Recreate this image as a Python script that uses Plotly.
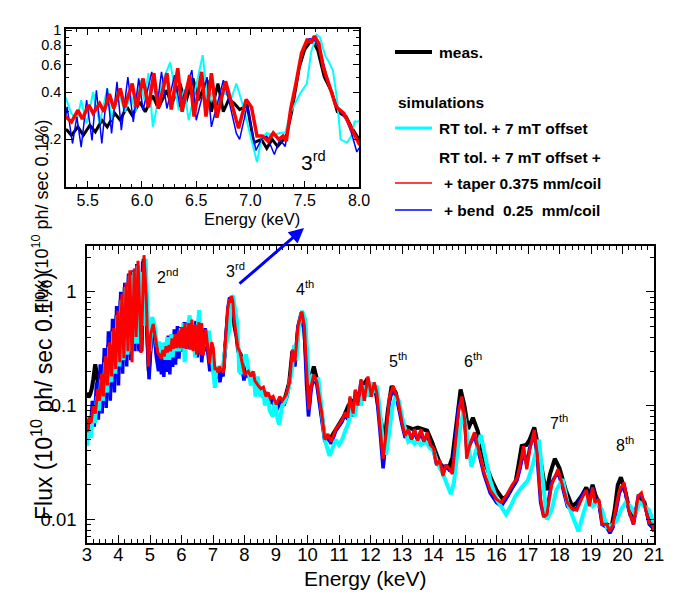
import math
import plotly.graph_objects as go

# ---- data: (energy keV, flux 1e10 ph/s/0.1%) ----
meas = [(3.00, 0.13), (3.05, 0.118), (3.10, 0.125), (3.15, 0.14), (3.20, 0.17), (3.26, 0.23), (3.30, 0.20),
        (3.35, 0.15), (3.42, 0.20), (3.48, 0.14), (3.55, 0.26), (3.61, 0.16), (3.68, 0.34), (3.74, 0.19),
        (3.81, 0.46), (3.87, 0.22), (3.94, 0.62), (4.00, 0.25), (4.07, 0.85), (4.13, 0.27), (4.20, 1.1),
        (4.26, 0.30), (4.33, 1.4), (4.39, 0.28), (4.46, 1.5), (4.52, 0.35), (4.59, 1.75), (4.66, 0.32),
        (4.73, 0.30), (4.80, 1.95), (4.88, 0.7), (4.96, 0.20), (5.04, 0.40), (5.12, 0.48), (5.20, 0.30),
        (5.27, 0.23), (5.31, 0.229), (5.35, 0.212), (5.41, 0.24), (5.46, 0.212), (5.52, 0.246), (5.57, 0.223),
        (5.63, 0.265), (5.68, 0.24), (5.75, 0.293), (5.80, 0.265), (5.86, 0.323), (5.91, 0.285), (5.98, 0.347),
        (6.03, 0.30), (6.10, 0.38), (6.15, 0.315), (6.23, 0.412), (6.27, 0.331), (6.35, 0.455), (6.40, 0.339),
        (6.47, 0.49), (6.52, 0.356), (6.60, 0.478), (6.64, 0.30), (6.70, 0.455), (6.75, 0.30), (6.80, 0.36),
        (6.85, 0.34), (6.90, 0.31), (6.97, 0.33), (7.03, 0.19), (7.10, 0.20), (7.15, 0.175), (7.20, 0.20),
        (7.25, 0.18), (7.30, 0.20), (7.33, 0.21), (7.38, 0.30), (7.45, 0.58), (7.50, 0.75), (7.55, 0.84),
        (7.58, 0.84), (7.62, 0.74), (7.68, 0.50), (7.75, 0.40), (7.80, 0.30), (7.88, 0.28), (7.93, 0.24),
        (8.00, 0.20), (8.10, 0.19), (8.20, 0.17), (8.30, 0.18), (8.40, 0.14), (8.50, 0.14), (8.60, 0.12),
        (8.70, 0.125), (8.80, 0.105), (8.90, 0.11), (9.00, 0.095), (9.10, 0.11), (9.20, 0.105), (9.30, 0.12),
        (9.42, 0.16), (9.52, 0.30), (9.60, 0.23), (9.70, 0.48), (9.82, 0.64), (9.90, 0.45), (9.98, 0.18),
        (10.05, 0.10), (10.12, 0.18), (10.20, 0.22), (10.30, 0.17), (10.45, 0.09), (10.55, 0.052), (10.70, 0.05),
        (10.85, 0.058), (11.00, 0.068), (11.15, 0.08), (11.30, 0.10), (11.45, 0.11), (11.60, 0.12), (11.75, 0.15),
        (11.90, 0.17), (12.00, 0.14), (12.15, 0.14), (12.30, 0.08), (12.45, 0.05), (12.55, 0.09), (12.67, 0.148),
        (12.80, 0.13), (12.95, 0.09), (13.05, 0.066), (13.20, 0.064), (13.35, 0.062), (13.50, 0.064),
        (13.65, 0.062), (13.80, 0.06), (13.95, 0.048), (14.05, 0.04), (14.20, 0.031), (14.35, 0.028),
        (14.50, 0.029), (14.60, 0.035), (14.72, 0.07), (14.86, 0.138), (14.98, 0.10), (15.10, 0.062),
        (15.25, 0.078), (15.40, 0.06), (15.55, 0.04), (15.68, 0.029), (15.85, 0.022), (16.00, 0.018),
        (16.20, 0.015), (16.35, 0.016), (16.50, 0.019), (16.60, 0.021), (16.70, 0.03), (16.80, 0.044),
        (16.95, 0.045), (17.05, 0.05), (17.20, 0.064), (17.35, 0.04), (17.50, 0.022), (17.60, 0.018),
        (17.70, 0.025), (17.85, 0.034), (18.00, 0.028), (18.20, 0.018), (18.40, 0.013), (18.55, 0.014),
        (18.70, 0.016), (18.85, 0.019), (18.95, 0.016), (19.05, 0.02), (19.15, 0.016), (19.25, 0.014),
        (19.35, 0.01), (19.50, 0.009), (19.65, 0.0085), (19.75, 0.012), (19.85, 0.02), (19.95, 0.0233),
        (20.10, 0.017), (20.25, 0.011), (20.40, 0.011), (20.55, 0.016), (20.70, 0.014), (20.85, 0.0095),
        (21.00, 0.008)]

rt_offset = [(3.00, 0.044), (3.06, 0.06), (3.12, 0.052), (3.19, 0.085), (3.25, 0.07), (3.32, 0.12), (3.38, 0.09),
             (3.45, 0.17), (3.51, 0.11), (3.58, 0.24), (3.64, 0.13), (3.71, 0.33), (3.77, 0.16), (3.84, 0.45),
             (3.90, 0.19), (3.97, 0.62), (4.03, 0.22), (4.10, 0.85), (4.16, 0.25), (4.23, 1.1), (4.29, 0.28),
             (4.36, 1.4), (4.42, 0.30), (4.49, 1.5), (4.55, 0.35), (4.61, 1.7), (4.68, 0.35), (4.74, 1.5),
             (4.80, 0.5), (4.86, 1.95), (4.93, 0.6), (4.99, 0.30), (5.07, 0.60), (5.14, 0.52), (5.22, 0.33),
             (5.30, 0.364), (5.35, 0.293), (5.40, 0.265), (5.44, 0.356), (5.49, 0.252), (5.55, 0.40), (5.61, 0.252),
             (5.68, 0.423), (5.72, 0.265), (5.78, 0.42), (5.84, 0.30), (5.90, 0.38), (5.94, 0.30), (5.98, 0.48),
             (6.02, 0.36), (6.06, 0.53), (6.10, 0.24), (6.18, 0.45), (6.26, 0.62), (6.34, 0.307), (6.39, 0.42),
             (6.43, 0.265), (6.49, 0.42), (6.56, 0.69), (6.61, 0.33), (6.65, 0.40), (6.70, 0.33), (6.76, 0.40),
             (6.82, 0.36), (6.87, 0.455), (6.93, 0.33), (6.98, 0.24), (7.03, 0.18), (7.06, 0.143), (7.10, 0.20),
             (7.15, 0.22), (7.21, 0.21), (7.27, 0.22), (7.32, 0.22), (7.38, 0.307), (7.46, 0.395), (7.52, 0.455),
             (7.56, 0.73), (7.61, 0.93), (7.64, 0.90), (7.69, 0.68), (7.72, 0.63), (7.76, 0.55), (7.80, 0.35),
             (7.83, 0.20), (7.89, 0.19), (7.93, 0.21), (7.96, 0.26), (8.00, 0.26), (8.05, 0.28), (8.12, 0.22),
             (8.20, 0.15), (8.28, 0.20), (8.35, 0.12), (8.42, 0.18), (8.50, 0.12), (8.58, 0.14), (8.65, 0.10),
             (8.72, 0.13), (8.80, 0.09), (8.90, 0.08), (8.97, 0.11), (9.05, 0.075), (9.10, 0.068), (9.20, 0.10),
             (9.30, 0.11), (9.40, 0.14), (9.50, 0.20), (9.58, 0.34), (9.65, 0.25), (9.73, 0.50), (9.83, 0.68),
             (9.93, 0.57), (10.05, 0.15), (10.15, 0.18), (10.25, 0.17), (10.35, 0.17), (10.45, 0.10), (10.55, 0.05),
             (10.70, 0.036), (10.80, 0.042), (10.90, 0.05), (11.00, 0.045), (11.10, 0.05), (11.20, 0.06),
             (11.30, 0.07), (11.40, 0.10), (11.50, 0.08), (11.60, 0.12), (11.70, 0.10), (11.80, 0.15), (11.90, 0.12),
             (12.00, 0.16), (12.10, 0.13), (12.20, 0.15), (12.30, 0.09), (12.40, 0.045), (12.50, 0.037),
             (12.60, 0.06), (12.70, 0.10), (12.80, 0.12), (12.90, 0.11), (13.00, 0.08), (13.10, 0.06),
             (13.20, 0.048), (13.30, 0.05), (13.40, 0.046), (13.50, 0.05), (13.60, 0.045), (13.75, 0.048),
             (13.90, 0.042), (14.00, 0.04), (14.15, 0.03), (14.30, 0.025), (14.45, 0.02), (14.55, 0.0166),
             (14.65, 0.021), (14.75, 0.04), (14.85, 0.065), (14.95, 0.087), (15.05, 0.06), (15.20, 0.029),
             (15.35, 0.04), (15.50, 0.055), (15.65, 0.035), (15.80, 0.022), (16.00, 0.015), (16.15, 0.013),
             (16.30, 0.011), (16.45, 0.013), (16.60, 0.016), (16.80, 0.019), (17.00, 0.022), (17.15, 0.03),
             (17.35, 0.05), (17.45, 0.025), (17.60, 0.0099), (17.75, 0.012), (17.90, 0.018), (18.10, 0.0225),
             (18.25, 0.014), (18.45, 0.01), (18.60, 0.0078), (18.75, 0.011), (18.90, 0.015), (19.05, 0.013),
             (19.20, 0.014), (19.35, 0.012), (19.50, 0.0085), (19.65, 0.0088), (19.80, 0.0095), (19.95, 0.012),
             (20.10, 0.014), (20.25, 0.013), (20.40, 0.011), (20.55, 0.014), (20.70, 0.013), (20.85, 0.012),
             (21.00, 0.009)]

taper = [(3.00, 0.058), (3.07, 0.08), (3.13, 0.07), (3.20, 0.10), (3.27, 0.085), (3.34, 0.14), (3.40, 0.11),
         (3.46, 0.19), (3.52, 0.12), (3.59, 0.27), (3.65, 0.15), (3.72, 0.36), (3.78, 0.18), (3.85, 0.48),
         (3.91, 0.21), (3.98, 0.68), (4.04, 0.24), (4.11, 0.95), (4.17, 0.26), (4.24, 1.2), (4.30, 0.30),
         (4.36, 1.55), (4.43, 0.24), (4.50, 1.6), (4.56, 0.40), (4.62, 1.87), (4.72, 0.29), (4.81, 2.1),
         (4.88, 0.9), (4.95, 0.22), (5.02, 0.42), (5.10, 0.52), (5.18, 0.38), (5.25, 0.29), (5.30, 0.278),
         (5.35, 0.258), (5.41, 0.307), (5.45, 0.27), (5.51, 0.331), (5.55, 0.293), (5.61, 0.339), (5.65, 0.30),
         (5.70, 0.389), (5.74, 0.315), (5.80, 0.423), (5.84, 0.32), (5.91, 0.455), (5.95, 0.32), (6.01, 0.49),
         (6.06, 0.32), (6.11, 0.53), (6.15, 0.315), (6.23, 0.53), (6.27, 0.31), (6.33, 0.57), (6.37, 0.30),
         (6.44, 0.515), (6.48, 0.28), (6.55, 0.54), (6.59, 0.28), (6.64, 0.53), (6.69, 0.275), (6.77, 0.47),
         (6.83, 0.33), (6.89, 0.235), (6.96, 0.36), (7.01, 0.32), (7.06, 0.21), (7.11, 0.21), (7.16, 0.195),
         (7.21, 0.22), (7.26, 0.20), (7.30, 0.21), (7.33, 0.195), (7.37, 0.31), (7.42, 0.46), (7.47, 0.71),
         (7.52, 0.86), (7.56, 0.84), (7.59, 0.915), (7.63, 0.82), (7.67, 0.58), (7.73, 0.43), (7.79, 0.323),
         (7.86, 0.293), (7.92, 0.24), (8.00, 0.188), (8.12, 0.20), (8.20, 0.18), (8.27, 0.20), (8.33, 0.165),
         (8.43, 0.15), (8.52, 0.14), (8.60, 0.145), (8.68, 0.12), (8.75, 0.13), (8.82, 0.115), (8.91, 0.12),
         (9.01, 0.102), (9.12, 0.12), (9.20, 0.11), (9.33, 0.125), (9.43, 0.16), (9.52, 0.31), (9.60, 0.24),
         (9.70, 0.50), (9.82, 0.67), (9.90, 0.50), (9.97, 0.20), (10.04, 0.092), (10.12, 0.15), (10.20, 0.187),
         (10.30, 0.16), (10.45, 0.087), (10.55, 0.05), (10.65, 0.056), (10.75, 0.048), (10.90, 0.062),
         (11.00, 0.068), (11.10, 0.075), (11.20, 0.087), (11.28, 0.078), (11.35, 0.12), (11.45, 0.085),
         (11.52, 0.138), (11.60, 0.10), (11.70, 0.17), (11.80, 0.11), (11.92, 0.18), (12.03, 0.12), (12.12, 0.16),
         (12.20, 0.13), (12.30, 0.066), (12.40, 0.034), (12.50, 0.058), (12.60, 0.12), (12.72, 0.148),
         (12.87, 0.113), (13.00, 0.071), (13.10, 0.054), (13.20, 0.062), (13.30, 0.05), (13.40, 0.062),
         (13.50, 0.049), (13.60, 0.062), (13.70, 0.048), (13.80, 0.058), (13.90, 0.045), (14.00, 0.042),
         (14.10, 0.03), (14.20, 0.033), (14.30, 0.024), (14.40, 0.03), (14.50, 0.028), (14.60, 0.025),
         (14.70, 0.045), (14.80, 0.09), (14.90, 0.12), (15.00, 0.07), (15.05, 0.034), (15.15, 0.045),
         (15.30, 0.058), (15.45, 0.04), (15.60, 0.026), (15.80, 0.018), (16.00, 0.015), (16.15, 0.014),
         (16.30, 0.016), (16.50, 0.02), (16.65, 0.023), (16.75, 0.03), (16.86, 0.044), (16.96, 0.0275),
         (17.05, 0.04), (17.20, 0.061), (17.30, 0.035), (17.40, 0.015), (17.50, 0.0104), (17.60, 0.011),
         (17.75, 0.02), (17.95, 0.0275), (18.10, 0.02), (18.25, 0.014), (18.40, 0.0123), (18.55, 0.012),
         (18.70, 0.015), (18.85, 0.018), (18.95, 0.013), (19.05, 0.019), (19.12, 0.014), (19.25, 0.015),
         (19.35, 0.009), (19.50, 0.009), (19.60, 0.0078), (19.70, 0.009), (19.80, 0.013), (19.90, 0.018),
         (20.05, 0.021), (20.20, 0.012), (20.35, 0.009), (20.50, 0.016), (20.60, 0.017), (20.75, 0.012),
         (20.85, 0.0093), (20.95, 0.009), (21.00, 0.0078)]

bend = [(3.00, 0.065), (3.05, 0.075), (3.10, 0.058), (3.17, 0.11), (3.23, 0.065), (3.30, 0.16), (3.36, 0.075),
        (3.42, 0.23), (3.48, 0.085), (3.55, 0.32), (3.61, 0.095), (3.68, 0.45), (3.74, 0.11), (3.81, 0.58),
        (3.87, 0.13), (3.94, 0.75), (4.00, 0.15), (4.07, 1.0), (4.13, 0.19), (4.20, 1.2), (4.26, 0.22),
        (4.32, 1.45), (4.39, 0.25), (4.46, 1.55), (4.52, 0.30), (4.58, 1.75), (4.65, 0.30), (4.71, 0.80),
        (4.77, 1.85), (4.84, 1.2), (4.91, 0.45), (4.97, 0.17), (5.05, 0.42), (5.12, 0.50), (5.20, 0.27),
        (5.27, 0.20), (5.31, 0.323), (5.36, 0.188), (5.40, 0.278), (5.44, 0.178), (5.49, 0.356), (5.54, 0.197),
        (5.58, 0.412), (5.63, 0.188), (5.68, 0.423), (5.72, 0.218), (5.77, 0.467), (5.81, 0.229), (5.87, 0.50),
        (5.92, 0.258), (5.97, 0.49), (6.01, 0.307), (6.09, 0.54), (6.14, 0.331), (6.18, 0.54), (6.23, 0.315),
        (6.30, 0.515), (6.35, 0.323), (6.46, 0.554), (6.50, 0.265), (6.60, 0.50), (6.64, 0.24), (6.75, 0.478),
        (6.80, 0.356), (6.87, 0.218), (6.90, 0.20), (6.97, 0.33), (7.05, 0.17), (7.10, 0.20), (7.15, 0.21),
        (7.22, 0.16), (7.27, 0.20), (7.32, 0.18), (7.37, 0.30), (7.42, 0.45), (7.47, 0.70), (7.52, 0.87),
        (7.55, 0.88), (7.60, 0.85), (7.64, 0.75), (7.70, 0.52), (7.76, 0.38), (7.82, 0.30), (7.88, 0.27),
        (7.93, 0.22), (7.98, 0.166), (8.00, 0.175), (8.10, 0.19), (8.20, 0.17), (8.28, 0.19), (8.35, 0.15),
        (8.45, 0.14), (8.55, 0.13), (8.65, 0.13), (8.75, 0.11), (8.85, 0.12), (8.95, 0.10), (9.05, 0.095),
        (9.15, 0.11), (9.25, 0.10), (9.35, 0.12), (9.45, 0.17), (9.53, 0.30), (9.60, 0.22), (9.70, 0.50),
        (9.80, 0.66), (9.90, 0.45), (9.97, 0.15), (10.03, 0.08), (10.12, 0.14), (10.20, 0.18), (10.30, 0.15),
        (10.45, 0.08), (10.55, 0.048), (10.65, 0.052), (10.75, 0.046), (10.90, 0.06), (11.00, 0.066),
        (11.10, 0.072), (11.20, 0.085), (11.28, 0.075), (11.35, 0.115), (11.45, 0.08), (11.52, 0.135),
        (11.60, 0.10), (11.70, 0.165), (11.80, 0.11), (11.90, 0.175), (12.00, 0.12), (12.10, 0.155),
        (12.20, 0.12), (12.30, 0.06), (12.40, 0.028), (12.50, 0.05), (12.60, 0.11), (12.72, 0.142),
        (12.85, 0.11), (13.00, 0.068), (13.10, 0.052), (13.20, 0.06), (13.30, 0.05), (13.40, 0.06),
        (13.50, 0.048), (13.60, 0.06), (13.70, 0.047), (13.80, 0.056), (13.90, 0.044), (14.00, 0.04),
        (14.10, 0.03), (14.20, 0.032), (14.30, 0.025), (14.40, 0.03), (14.50, 0.027), (14.60, 0.026),
        (14.70, 0.05), (14.80, 0.10), (14.90, 0.115), (15.00, 0.065), (15.07, 0.036), (15.15, 0.045),
        (15.30, 0.055), (15.45, 0.038), (15.60, 0.025), (15.80, 0.017), (16.00, 0.014), (16.15, 0.013),
        (16.30, 0.015), (16.50, 0.019), (16.65, 0.022), (16.75, 0.028), (16.86, 0.04), (16.96, 0.03),
        (17.05, 0.042), (17.20, 0.058), (17.30, 0.033), (17.40, 0.014), (17.50, 0.0105), (17.60, 0.012),
        (17.75, 0.021), (17.95, 0.026), (18.10, 0.019), (18.25, 0.013), (18.40, 0.012), (18.55, 0.0125),
        (18.70, 0.016), (18.85, 0.018), (18.95, 0.014), (19.05, 0.019), (19.12, 0.015), (19.25, 0.014),
        (19.35, 0.009), (19.50, 0.0085), (19.60, 0.0075), (19.70, 0.0085), (19.80, 0.012), (19.90, 0.017),
        (20.05, 0.02), (20.20, 0.012), (20.35, 0.009), (20.50, 0.016), (20.60, 0.016), (20.75, 0.012),
        (20.85, 0.009), (20.95, 0.0085), (21.00, 0.0078)]

harmonics = ["2<sup>nd</sup>", "3<sup>rd</sup>", "4<sup>th</sup>", "5<sup>th</sup>",
             "6<sup>th</sup>", "7<sup>th</sup>", "8<sup>th</sup>"]
harm_e = [5.54, 7.70, 9.93, 12.86, 15.24, 17.98, 20.07]
harm_f = [1.38, 1.56, 1.08, 0.253, 0.253, 0.072, 0.0455]

FONT = "Arial, Liberation Sans, Helvetica, sans-serif"
YTITLE = "Flux (10<sup>10</sup> ph/ sec 0.1%)"

# page body keeps an 8 px margin top/left; figure reaches the window's right/bottom edge
W, H = 666, 596


def px(x):
    return (x - 8) / W


def py(y):
    return (H + 8 - y) / H


fig = go.Figure()

# main plot: thick lines
series = [(meas, "black", 4), (bend, "#0000ff", 3.5), (rt_offset, "#00ffff", 4), (taper, "#ff0000", 3)]
for data, col, w in series:
    e, f = zip(*data)
    fig.add_trace(go.Scatter(x=e, y=f, mode="lines", line=dict(color=col, width=w),
                             xaxis="x", yaxis="y", showlegend=False))

# inset: same data, zoomed on the 3rd harmonic
inset = [(meas, "black", 3), (rt_offset, "#00ffff", 2), (bend, "#0000ff", 1.5), (taper, "#ff0000", 3.5)]
for data, col, w in inset:
    e, f = zip(*data)
    fig.add_trace(go.Scatter(x=e, y=f, mode="lines", line=dict(color=col, width=w),
                             xaxis="x2", yaxis="y2", showlegend=False))

axis_common = dict(showline=True, linecolor="black", linewidth=1.5, mirror="allticks", automargin=False,
                   ticks="inside", tickcolor="black", tickwidth=1.2, showgrid=False, zeroline=False)

main_minor = [0.007, 0.008, 0.009] + [k / 100 for k in range(2, 10)] + [k / 10 for k in range(2, 10)] + [2]

fig.update_layout(
    width=W, height=H,
    margin=dict(l=0, r=0, t=0, b=0),
    paper_bgcolor="white", plot_bgcolor="white",
    font=dict(family=FONT, color="black"),
    xaxis=dict(axis_common, domain=[px(87), px(654)], range=[3, 21], anchor="y",
               tickvals=list(range(3, 22)), ticklen=8, tickfont=dict(size=18.5), ticklabelstandoff=-6,
               minor=dict(dtick=0.2, ticks="inside", ticklen=4, tickcolor="black", showgrid=False)),
    yaxis=dict(axis_common, type="log", domain=[py(543), py(246)], range=[-2.21, 0.403], anchor="x",
               tickvals=[0.01, 0.1, 1], ticktext=["0.01", "0.1", "1"], ticklen=8, tickfont=dict(size=18.5),
               ticklabelstandoff=5,
               minor=dict(tickvals=main_minor, ticks="inside", ticklen=4, tickcolor="black", showgrid=False)),
    xaxis2=dict(axis_common, domain=[px(66), px(359)], range=[5.3, 8.0], anchor="y2",
                tickvals=[5.5, 6.0, 6.5, 7.0, 7.5, 8.0], ticktext=["5.5", "6.0", "6.5", "7.0", "7.5", "8.0"],
                ticklen=6, tickfont=dict(size=16), ticklabelstandoff=-2,
                minor=dict(dtick=0.1, ticks="inside", ticklen=3, tickcolor="black", showgrid=False)),
    yaxis2=dict(axis_common, type="log", domain=[py(187), py(29)], range=[-1.004, 0.0065], anchor="x2",
                tickvals=[0.2, 0.4, 0.6, 0.8, 1], ticktext=["0.2", "0.4", "0.6", "0.8", "1"],
                ticklen=6, tickfont=dict(size=14.5),
                minor=dict(tickvals=[0.1, 0.3, 0.5, 0.7, 0.9], ticks="inside", ticklen=3,
                           tickcolor="black", showgrid=False)),
)

ann = []
# axis titles
ann.append(dict(text="Energy (keV)", xref="paper", yref="paper", x=px(365), y=py(592),
                showarrow=False, font=dict(size=21)))
ann.append(dict(text=YTITLE, xref="paper", yref="paper", x=px(25), y=py(396), textangle=-90,
                showarrow=False, font=dict(size=23)))
ann.append(dict(text="Energy (keV)", xref="paper", yref="paper", x=px(202), y=py(219),
                showarrow=False, font=dict(size=16.5)))
ann.append(dict(text=YTITLE, xref="paper", yref="paper", x=px(27), y=py(118), textangle=-90,
                showarrow=False, font=dict(size=18)))

# harmonic labels
for t, e, f in zip(harmonics, harm_e, harm_f):
    ann.append(dict(text=t, xref="x", yref="y", x=e, y=math.log10(f), showarrow=False,
                    font=dict(size=16)))
ann.append(dict(text="3<sup>rd</sup>", xref="x2", yref="y2", x=7.58, y=math.log10(0.145),
                showarrow=False, font=dict(size=21)))

# arrow from main 3rd harmonic to inset
ann.append(dict(text="", xref="paper", yref="paper", x=px(304), y=py(228), ax=-66, ay=57,
                showarrow=True, arrowhead=2, arrowsize=1, arrowwidth=3, arrowcolor="#0000ff", standoff=0))

# legend drawn by hand
leg_font = dict(size=15.5, family=FONT)
leg_rows = [("meas.", "black", 4, 52, 437),
            ("RT tol. + 7 mT offset", "#00ffff", 3, 128, 437),
            ("RT tol. + 7 mT offset +", None, 0, 157, 437),
            ("+ taper 0.375 mm/coil", "#ff0000", 1.5, 183, 442),
            ("+ bend&nbsp; 0.25&nbsp; mm/coil", "#0000ff", 1.5, 210, 442)]
shapes = []
for text, col, w, yy, tx in leg_rows:
    if col:
        shapes.append(dict(type="line", xref="paper", yref="paper", x0=px(395), x1=px(432),
                           y0=py(yy), y1=py(yy), line=dict(color=col, width=w)))
    ann.append(dict(text="<b>" + text + "</b>", xref="paper", yref="paper", x=px(tx), y=py(yy),
                    xanchor="left", yanchor="middle", showarrow=False, font=leg_font))
ann.append(dict(text="<b>simulations</b>", xref="paper", yref="paper", x=px(396), y=py(102),
                xanchor="left", yanchor="middle", showarrow=False, font=leg_font))

fig.update_layout(annotations=ann, shapes=shapes)

fig.write_html("out.html")
